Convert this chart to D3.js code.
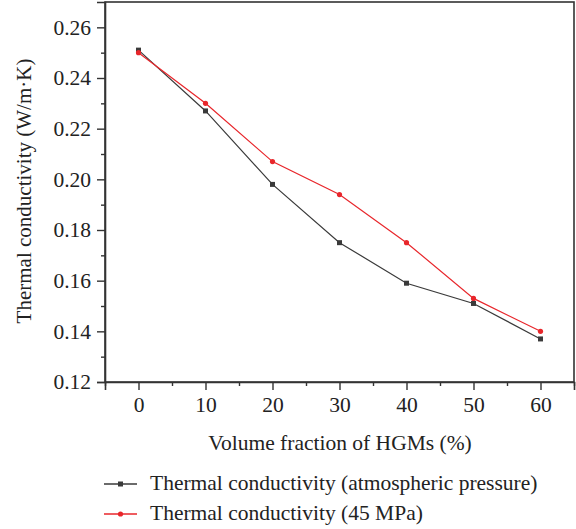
<!DOCTYPE html>
<html><head><meta charset="utf-8">
<script src="https://cdn.jsdelivr.net/npm/d3@7"></script>
<style>body{margin:0;background:#fff}svg{display:block}text{font-family:"Liberation Serif","DejaVu Serif",serif;fill:#222}</style>
</head><body><svg id="c" width="576" height="529"></svg>
<script>
const fractions = [0, 10, 20, 30, 40, 50, 60];
const atmospheric = [0.251, 0.227, 0.198, 0.175, 0.159, 0.151, 0.137];
const mpa45 = [0.250, 0.230, 0.207, 0.194, 0.175, 0.153, 0.140];
const xTicks = [0, 10, 20, 30, 40, 50, 60];
const yTicks = [0.12, 0.14, 0.16, 0.18, 0.20, 0.22, 0.24, 0.26];
const seriesNames = ["Thermal conductivity (atmospheric pressure)", "Thermal conductivity (45 MPa)"];

const FS = "21.5px", FF = '"Liberation Serif",serif';
const svg = d3.select("#c");
const L = 105, R = 574, T = 2, B = 382;
const x = d3.scaleLinear().domain([-5, 65]).range([L, R]);
const y = d3.scaleLinear().domain([0.12, 0.27]).range([B, T]);
const black = "#3a3a3a", red = "#e8262b";

// frame
svg.append("rect").attr("x", L).attr("y", T).attr("width", R - L).attr("height", B - T)
  .attr("fill", "none").attr("stroke", "#333").attr("stroke-width", 1.6);

// x axis
svg.append("g").attr("transform", `translate(0,${B})`)
  .call(d3.axisBottom(x).tickValues(xTicks).tickSize(8).tickPadding(7).tickFormat(d3.format("d")));
svg.append("g").attr("transform", `translate(0,${B})`)
  .call(d3.axisBottom(x).tickValues(d3.range(-5, 66, 10)).tickSize(4).tickFormat(""))
  .call(g => g.select(".domain").remove());
// y axis
svg.append("g").attr("transform", `translate(${L},0)`)
  .call(d3.axisLeft(y).tickValues(yTicks).tickSize(8).tickPadding(6).tickFormat(d3.format(".2f")));
svg.append("g").attr("transform", `translate(${L},0)`)
  .call(d3.axisLeft(y).tickValues([0.13, 0.15, 0.17, 0.19, 0.21, 0.23, 0.25]).tickSize(4).tickFormat(""))
  .call(g => g.select(".domain").remove());
svg.selectAll("g").attr("font-family", FF).attr("font-size", FS);
svg.selectAll(".domain").attr("stroke", "#333").attr("stroke-width", 1.6);
svg.selectAll(".tick line").attr("stroke", "#333").attr("stroke-width", 1.4);
svg.selectAll(".tick text").attr("fill", "#222");

// titles
svg.append("text").attr("x", 340).attr("y", 450).attr("text-anchor", "middle")
  .style("font-size", FS).text("Volume fraction of HGMs (%)");
svg.append("text").attr("transform", `translate(31,191) rotate(-90)`).attr("text-anchor", "middle")
  .style("font-size", "21px").text("Thermal conductivity (W/m·K)");

// lines
const line = d3.line().x((d, i) => x(fractions[i])).y(d => y(d));
svg.append("path").datum(atmospheric).attr("d", line).attr("fill", "none").attr("stroke", black).attr("stroke-width", 1.2);
svg.append("path").datum(mpa45).attr("d", line).attr("fill", "none").attr("stroke", red).attr("stroke-width", 1.2);
svg.selectAll(".sq").data(atmospheric).join("rect")
  .attr("x", (d, i) => x(fractions[i]) - 2.5).attr("y", d => y(d) - 2.5).attr("width", 5).attr("height", 5).attr("fill", black);
svg.selectAll(".ci").data(mpa45).join("circle")
  .attr("cx", (d, i) => x(fractions[i])).attr("cy", d => y(d)).attr("r", 2.6).attr("fill", red);

// legend
const lg = [{c: black, m: "sq", yy: 484}, {c: red, m: "ci", yy: 514}];
lg.forEach((d, i) => {
  svg.append("line").attr("x1", 104).attr("x2", 137).attr("y1", d.yy).attr("y2", d.yy).attr("stroke", d.c).attr("stroke-width", 1.3);
  if (d.m === "sq") svg.append("rect").attr("x", 118).attr("y", d.yy - 2.5).attr("width", 5).attr("height", 5).attr("fill", d.c);
  else svg.append("circle").attr("cx", 120.5).attr("cy", d.yy).attr("r", 2.6).attr("fill", d.c);
  svg.append("text").attr("x", 150).attr("y", d.yy + 6).style("font-size", FS).text(seriesNames[i]);
});
</script></body></html>
